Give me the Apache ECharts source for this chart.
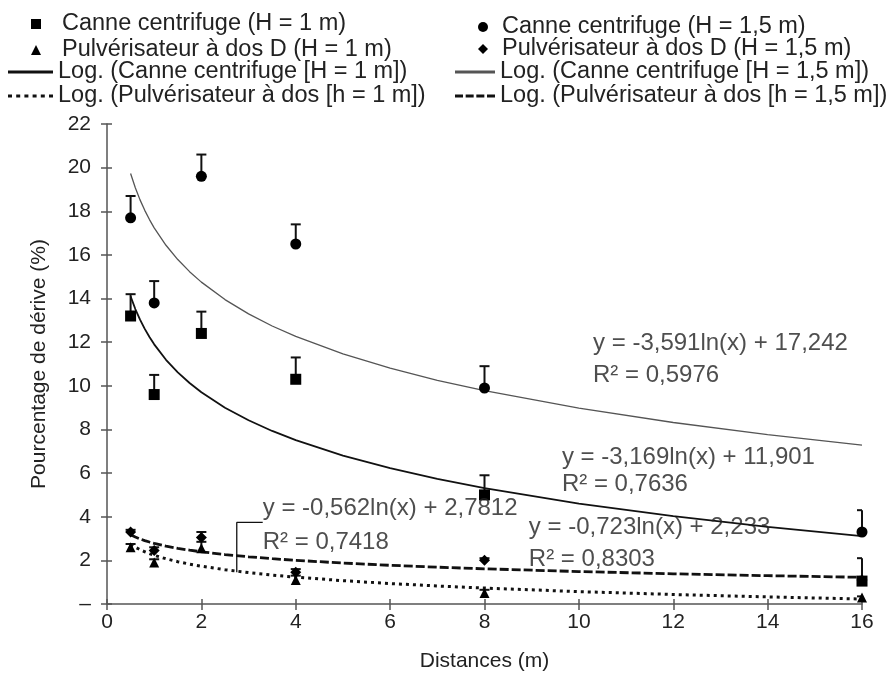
<!DOCTYPE html>
<html>
<head>
<meta charset="utf-8">
<script src="https://cdn.jsdelivr.net/npm/echarts@6/dist/echarts.min.js"></script>
<style>html,body{margin:0;padding:0;background:#fff;}#c{width:896px;height:677px;}</style>
</head>
<body>
<div id="c"></div>
<script>
// ---- data ----
var distances = [0.5, 1, 2, 4, 8, 16];
var canne1 = [13.2, 9.6, 12.4, 10.3, 5.0, 1.05];
var canne1Top = [14.2, 10.5, 13.4, 11.3, 5.9, 2.1];
var canne15 = [17.7, 13.8, 19.6, 16.5, 9.9, 3.3];
var canne15Top = [18.7, 14.8, 20.6, 17.4, 10.9, 4.3];
var pulv1 = [2.6, 1.9, 2.55, 1.1, 0.5, 0.3];
var pulv1Top = [2.75, 2.05, 2.85, 1.3, 0.65, 0.35];
var pulv15 = [3.3, 2.45, 3.05, 1.45, 2.0, 1.1];
var pulv15Top = [3.4, 2.6, 3.3, 1.6, 2.1, 1.2];

// trend curves (printed log fits)
var trendX = [0.5, 0.6, 0.7, 0.8, 0.9, 1, 1.25, 1.5, 1.75, 2, 2.5, 3, 3.5, 4, 5, 6, 7, 8, 10, 12, 14, 16];
var trendCanne15 = [19.731, 19.076, 18.523, 18.043, 17.620, 17.242, 16.441, 15.786, 15.232, 14.753, 13.952, 13.297, 12.743, 12.264, 11.463, 10.808, 10.254, 9.775, 8.973, 8.319, 7.765, 7.286];
var trendCanne1 = [14.097, 13.520, 13.031, 12.608, 12.235, 11.901, 11.194, 10.616, 10.128, 9.705, 8.997, 8.420, 7.931, 7.508, 6.801, 6.223, 5.734, 5.311, 4.604, 4.026, 3.538, 3.115];
var trendPulv15 = [3.171, 3.068, 2.982, 2.907, 2.840, 2.781, 2.656, 2.553, 2.467, 2.392, 2.266, 2.164, 2.077, 2.002, 1.877, 1.774, 1.688, 1.613, 1.487, 1.385, 1.298, 1.223];
var trendPulv1 = [2.734, 2.602, 2.491, 2.394, 2.309, 2.233, 2.072, 1.940, 1.828, 1.732, 1.571, 1.439, 1.327, 1.231, 1.069, 0.938, 0.826, 0.730, 0.568, 0.436, 0.325, 0.228];

var names = [
  'Canne centrifuge (H = 1 m)',
  'Pulvérisateur à dos D (H = 1 m)',
  'Log. (Canne centrifuge [H = 1 m])',
  'Log. (Pulvérisateur à dos [h = 1 m])',
  'Canne centrifuge (H = 1,5 m)',
  'Pulvérisateur à dos D (H = 1,5 m)',
  'Log. (Canne centrifuge [H = 1,5 m])',
  'Log. (Pulvérisateur à dos [h = 1,5 m])'
];

var equations = [
  [10.3, 11.96, 'y = -3,591ln(x) + 17,242'],
  [10.3, 10.46, 'R² = 0,5976'],
  [9.64, 6.71, 'y = -3,169ln(x) + 11,901'],
  [9.64, 5.48, 'R² = 0,7636'],
  [3.3, 4.38, 'y = -0,562ln(x) + 2,7812'],
  [3.3, 2.83, 'R² = 0,7418'],
  [8.94, 3.52, 'y = -0,723ln(x) + 2,233'],
  [8.94, 2.05, 'R² = 0,8303']
];
var leader = [[2.75, 1.46], [2.75, 3.74], [3.3, 3.74]];

var yTicks = {0: '–'};

function pairs(xs, ys) { return xs.map(function (x, i) { return [x, ys[i]]; }); }
function triples(xs, ys, tops) { return xs.map(function (x, i) { return [x, ys[i], tops[i]]; }); }

function errRender(params, api) {
  var p = api.coord([api.value(0), api.value(1)]);
  var t = api.coord([api.value(0), api.value(2)]);
  var cs = params.coordSys;
  var right = cs.x + cs.width;
  var x1 = t[0] - 5, x2 = Math.min(t[0] + 5, right);
  return {
    type: 'group',
    children: [
      {type: 'line', shape: {x1: p[0], y1: p[1], x2: t[0], y2: t[1]}, style: {stroke: '#111', lineWidth: 2}},
      {type: 'line', shape: {x1: x1, y1: t[1], x2: x2, y2: t[1]}, style: {stroke: '#111', lineWidth: 2}}
    ]
  };
}
function errSeries(xs, ys, tops) {
  return {type: 'custom', renderItem: errRender, data: triples(xs, ys, tops), z: 2, silent: true, encode: {x: 0, y: [1, 2]}};
}

var font = 'Liberation Sans, Arial, sans-serif';
var legendText = {fontSize: 23.5, color: '#222', lineHeight: 22, fontFamily: font};
var dotIcon = 'path://M0,0h4v3h-4z M8.2,0h4v3h-4z M16.4,0h4v3h-4z M24.6,0h4v3h-4z M32.8,0h4v3h-4z M41,0h4v3h-4z';
var dashIcon = 'path://M0,0h8v3h-8z M10.67,0h8v3h-8z M21.33,0h8v3h-8z M32,0h8v3h-8z';

var chart = echarts.init(document.getElementById('c'));
var option = {
  animation: false,
  backgroundColor: '#fff',
  textStyle: {fontFamily: font},
  grid: {left: 107, right: 34, top: 124, bottom: 73},
  legend: [
    {
      data: [{name: names[0], icon: 'rect'}, {name: names[1], icon: 'triangle'}],
      orient: 'vertical', left: 31, top: 12, padding: 0, itemWidth: 10, itemHeight: 10, itemGap: 2,
      textStyle: Object.assign({padding: [0, 0, 0, 16]}, legendText), selectedMode: false
    },
    {
      data: [{name: names[2], icon: 'rect'}, {name: names[3], icon: dotIcon}],
      orient: 'vertical', left: 8, top: 60, padding: 0, itemWidth: 45, itemHeight: 3, itemGap: 0,
      textStyle: legendText, selectedMode: false
    },
    {
      data: [{name: names[4], icon: 'circle'}, {name: names[5], icon: 'diamond'}],
      orient: 'vertical', left: 478, top: 15, padding: 0, itemWidth: 10, itemHeight: 10, itemGap: -2,
      textStyle: Object.assign({padding: [0, 0, 0, 9]}, legendText), selectedMode: false
    },
    {
      data: [{name: names[6], icon: 'rect'}, {name: names[7], icon: dashIcon}],
      orient: 'vertical', left: 455, top: 60, padding: 0, itemWidth: 40, itemHeight: 3, itemGap: 0,
      textStyle: legendText, selectedMode: false
    }
  ],
  xAxis: [
    {
      type: 'value', min: 0, max: 16, interval: 2,
      name: 'Distances (m)', nameLocation: 'middle', nameGap: 47,
      nameTextStyle: {fontSize: 21, color: '#222', fontFamily: font},
      axisLine: {lineStyle: {color: '#555', width: 1.5}},
      axisTick: {length: 6, lineStyle: {color: '#555', width: 1.5}},
      axisLabel: {fontSize: 21, color: '#222', margin: 8, fontFamily: font},
      splitLine: {show: false}
    },
    {
      type: 'value', min: 0, max: 16, interval: 2, position: 'bottom',
      axisLine: {show: false}, axisLabel: {show: false},
      axisTick: {inside: true, length: 5, lineStyle: {color: '#555', width: 1.5}},
      splitLine: {show: false}
    }
  ],
  yAxis: [
    {
      type: 'value', min: 0, max: 22, interval: 2,
      name: 'Pourcentage de dérive (%)', nameLocation: 'middle', nameGap: 57,
      nameTextStyle: {fontSize: 21, color: '#222', fontFamily: font},
      axisLine: {show: true, lineStyle: {color: '#555', width: 1.5}},
      axisTick: {show: true, length: 6, lineStyle: {color: '#555', width: 1.5}},
      axisLabel: {fontSize: 21, color: '#222', margin: 16, fontFamily: font,
        formatter: function (v) { return yTicks[v] !== undefined ? yTicks[v] : String(v); }},
      splitLine: {show: false}
    },
    {
      type: 'value', min: 0, max: 22, interval: 2, position: 'left',
      axisLine: {show: false}, axisLabel: {show: false},
      axisTick: {show: true, inside: true, length: 5, lineStyle: {color: '#555', width: 1.5}},
      splitLine: {show: false}
    }
  ],
  series: [
    errSeries(distances, canne1, canne1Top),
    errSeries(distances, canne15, canne15Top),
    errSeries(distances, pulv1, pulv1Top),
    errSeries(distances, pulv15, pulv15Top),
    {name: names[2], type: 'line', data: pairs(trendX, trendCanne1), symbol: 'none', smooth: false,
      lineStyle: {color: '#111', width: 1.8}, itemStyle: {color: '#111'}, z: 3, silent: true},
    {name: names[3], type: 'line', data: pairs(trendX, trendPulv1), symbol: 'none', smooth: false,
      lineStyle: {color: '#111', width: 3, type: [3, 4]}, itemStyle: {color: '#111'}, z: 3, silent: true},
    {name: names[6], type: 'line', data: pairs(trendX, trendCanne15), symbol: 'none', smooth: false,
      lineStyle: {color: '#555', width: 1.3}, itemStyle: {color: '#555'}, z: 3, silent: true},
    {name: names[7], type: 'line', data: pairs(trendX, trendPulv15), symbol: 'none', smooth: false,
      lineStyle: {color: '#111', width: 2.8, type: [9, 3]}, itemStyle: {color: '#111'}, z: 3, silent: true},
    {name: names[0], type: 'scatter', data: pairs(distances, canne1), symbol: 'rect', symbolSize: 11,
      itemStyle: {color: '#000', opacity: 1}, z: 5},
    {name: names[1], type: 'scatter', data: pairs(distances, pulv1), symbol: 'triangle', symbolSize: 10,
      itemStyle: {color: '#000', opacity: 1}, z: 5},
    {name: names[4], type: 'scatter', data: pairs(distances, canne15), symbol: 'circle', symbolSize: 11,
      itemStyle: {color: '#000', opacity: 1}, z: 5},
    {name: names[5], type: 'scatter', data: pairs(distances, pulv15), symbol: 'diamond', symbolSize: 11,
      itemStyle: {color: '#000', opacity: 1}, z: 5},
    {type: 'line', data: leader, symbol: 'none', lineStyle: {color: '#111', width: 1.3}, z: 4, silent: true},
    {type: 'scatter', data: equations, symbolSize: 0, silent: true, z: 6,
      label: {show: true, position: 'right', distance: 0, fontSize: 24, color: '#222', fontFamily: font,
        formatter: function (p) { return p.data[2]; }}}
  ]
};
chart.setOption(option);
</script>
</body>
</html>
